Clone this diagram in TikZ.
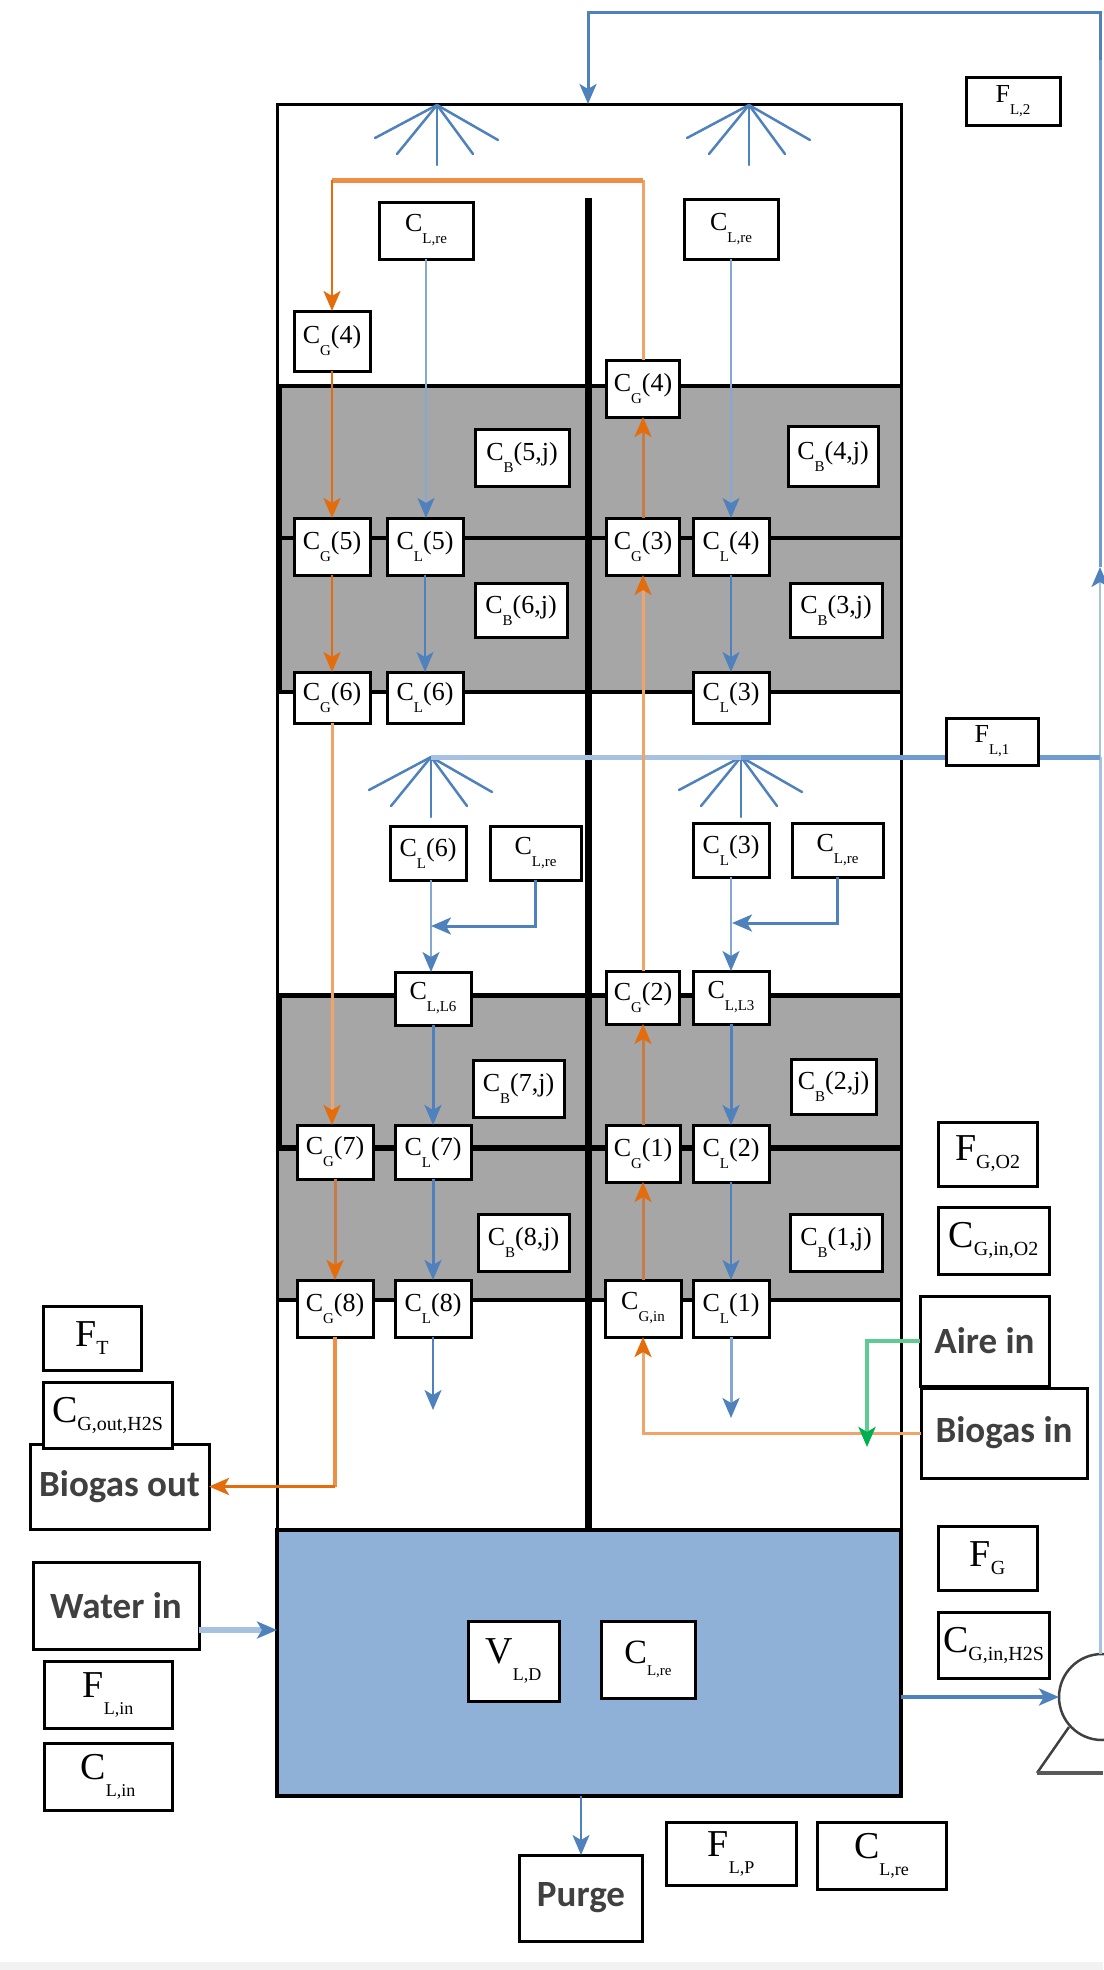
\documentclass[tikz,border=0pt]{standalone}
\usepackage{fontspec}
\usepackage{xcolor}
\usepackage{tikz}
\usetikzlibrary{arrows.meta,positioning}
\setmainfont{Liberation Serif}
\newfontfamily\labfont{Carlito}

\definecolor{bedgray}{HTML}{A6A6A6}
\definecolor{sumpblue}{HTML}{8FB0D7}
\definecolor{liqblue}{HTML}{4F81BD}
\definecolor{liqpale}{HTML}{A7C2E0}
\definecolor{liqmid}{HTML}{6F9BD0}
\definecolor{gasdark}{HTML}{E46C0A}
\definecolor{gaspale}{HTML}{F0A46A}
\definecolor{gasmute}{HTML}{C87C45}
\definecolor{gastop}{HTML}{EE8F45}
\definecolor{airgreen}{HTML}{00B050}
\definecolor{airpale}{HTML}{5FCB92}
\definecolor{labgray}{HTML}{404040}
\definecolor{stripgray}{HTML}{F2F2F2}

% low subscripts: small boxes, large boxes, dropped under the letter
\newcommand{\lsub}[1]{\raisebox{-12pt}{\fontsize{15}{15}\selectfont #1}}
\newcommand{\bsub}[1]{\raisebox{-8pt}{\fontsize{20}{20}\selectfont #1}}
\newcommand{\dsub}[1]{\raisebox{-17pt}{\fontsize{18}{18}\selectfont #1}}

\tikzset{
  cbox/.style={draw=black, line width=3pt, fill=white, inner sep=0pt, outer sep=0pt,
    font=\fontsize{26}{26}\selectfont, minimum width=76pt, minimum height=57pt},
  fbox/.style={cbox, font=\fontsize{38}{38}\selectfont, minimum width=99pt, minimum height=64pt},
  tbox/.style={cbox, text=labgray, font=\labfont\bfseries\fontsize{37}{37}\selectfont},
  liqflow/.style={draw=liqblue, line width=2pt, -{Stealth[length=20pt,width=17pt,inset=5pt,color=liqblue]}},
  liqpaleflow/.style={liqflow, draw=liqpale!60!liqblue},
  gasflow/.style={draw=gasdark, line width=2.5pt, -{Stealth[length=20pt,width=17pt,inset=5pt,color=gasdark]}},
  gasmuteflow/.style={gasflow, draw=gasmute, line width=3pt},
  gaspaleflow/.style={gasflow, draw=gaspale, line width=3pt},
  spray/.style={draw=liqblue, line width=2.5pt, line cap=round},
}

\begin{document}
\begin{tikzpicture}[x=1pt,y=-1pt]
\useasboundingbox (0,0) rectangle (1103,1970);
\fill[stripgray] (0,1962) rectangle (1103,1970);

% packed beds
\fill[bedgray] (277,386) rectangle (901,692);
\fill[bedgray] (277,995) rectangle (901,1300);
\draw[line width=3pt] (277,104) rectangle (901,1530);
\draw[line width=4pt] (277,386) -- (901,386);
\draw[line width=4pt] (277,538) -- (901,538);
\draw[line width=3.5pt] (277,692) -- (901,692);
\draw[line width=5pt] (277,995) -- (901,995);
\draw[line width=6pt] (277,1148) -- (901,1148);
\draw[line width=4pt] (277,1300) -- (901,1300);
\draw[line width=5pt] (279,386) -- (279,692);
\draw[line width=5pt] (279,995) -- (279,1148);
\draw[line width=6.5pt] (588.5,198) -- (588.5,1530);

% sump and pump
\node[draw=black, line width=4pt, fill=sumpblue, minimum width=624pt, minimum height=266pt, inner sep=0pt, outer sep=0pt] (tank) at (589,1663) {};
\node[circle, draw=black!75, line width=2.5pt, minimum size=86pt, inner sep=0pt, outer sep=0pt] (pump) at (1102,1697) {};
\draw[black!75, line width=2.5pt] (1069,1727) -- (1037,1773);
\draw[black!65, line width=4pt] (1037,1773) -- (1103,1773);

% text boxes
\node[tbox, minimum width=179pt, minimum height=85pt] (bgout) at (119.5,1486.5) {Biogas out};
\node[tbox, minimum width=129pt, minimum height=90pt] (airin) at (984.5,1341) {Aire in};
\node[tbox, minimum width=166pt, minimum height=90pt] (bgin) at (1004,1433) {Biogas in};
\node[tbox, minimum width=166pt, minimum height=87pt] (waterin) at (116,1605.5) {Water in};
\node[tbox, minimum width=123pt, minimum height=86pt] (purge) at (581,1898) {Purge};

\coordinate (gtopr) at (643,180);
\coordinate (gtopl) at (332,180);
\coordinate (gout) at (335,1486.5);
\coordinate (ltop) at (800,12);
\coordinate (rcyup) at (1100,60);
\coordinate (rcymid) at (1100,567);
\coordinate (rcyfl) at (1100,757);
\coordinate (sprayt1) at (437,105);
\coordinate (sprayt2) at (749,105);
\coordinate (spraym1) at (431,757);
\coordinate (spraym2) at (741,757);
\coordinate (mixl) at (431,926);
\coordinate (mixr) at (732,923);
\coordinate (dropl) at (433,1410);
\coordinate (dropr) at (731,1418);
\coordinate (airmix) at (867,1447);
\coordinate (wfeed) at (200,1630);

% sprays
\foreach \apex in {sprayt1,sprayt2,spraym1,spraym2}
  \foreach \dx/\dy in {-62/33,-40/49,0/60,36/49,61/35}
    \draw[spray] (\apex) -- ++(\dx,\dy);

% recycle lines
\draw[draw=liqpale, line width=3pt] (pump.north -| rcymid) -- (rcyfl);
\draw[liqflow, draw=liqpale] (rcyfl) -- (rcymid);
\draw[draw=liqmid, line width=3pt] (rcymid) -- (rcyup);
\draw[liqflow, line width=3pt] (rcyup) |- (ltop) -| (588,104);
\draw[draw=liqmid, line width=5pt] (rcyfl) -- (spraym2);
\draw[draw=liqpale, line width=5pt] (spraym2) -- (spraym1);

% concentration boxes
\node[cbox, minimum width=94pt] (clret1) at (426,230.5) {C\lsub{L,re}};
\node[cbox, minimum width=94pt, minimum height=60pt] (clret2) at (731,229) {C\lsub{L,re}};
\node[cbox, minimum height=60pt] (cg4l) at (332,341) {C\lsub{G}(4)};
\node[cbox, minimum width=73pt] (cg4r) at (643,388.5) {C\lsub{G}(4)};
\node[cbox, minimum width=94pt] (cb5) at (522,457.5) {C\lsub{B}(5,j)};
\node[cbox, minimum width=90pt, minimum height=60pt] (cb4) at (833,456) {C\lsub{B}(4,j)};
\node[cbox] (cg5) at (332,546.5) {C\lsub{G}(5)};
\node[cbox, right=17pt of cg5] (cl5) {C\lsub{L}(5)};
\node[cbox, minimum width=73pt] (cg3) at (643,546.5) {C\lsub{G}(3)};
\node[cbox, right=13.5pt of cg3] (cl4) {C\lsub{L}(4)};
\node[cbox, minimum width=92pt, minimum height=54pt] (cb6) at (521,610) {C\lsub{B}(6,j)};
\node[cbox, minimum width=92pt, minimum height=54pt] (cb3) at (836,610) {C\lsub{B}(3,j)};
\node[cbox, minimum height=51pt] (cg6) at (332,697.5) {C\lsub{G}(6)};
\node[cbox, minimum height=51pt, right=17pt of cg6] (cl6) {C\lsub{L}(6)};
\node[cbox, minimum height=51pt] (cl3) at (731,697.5) {C\lsub{L}(3)};
\node[cbox, minimum height=54pt] (cl6s) at (428,853) {C\lsub{L}(6)};
\node[cbox, minimum width=91pt, minimum height=54pt] (clret3) at (535.5,853) {C\lsub{L,re}};
\node[cbox, minimum height=54pt] (cl3s) at (731,850) {C\lsub{L}(3)};
\node[cbox, minimum width=91pt, minimum height=54pt] (clret4) at (837.5,850) {C\lsub{L,re}};
\node[cbox, minimum height=53pt] (cll6) at (433,998.5) {C\lsub{L,L6}};
\node[cbox, minimum width=73pt, minimum height=53pt] (cg2) at (643,997.5) {C\lsub{G}(2)};
\node[cbox, minimum height=53pt, right=13.5pt of cg2] (cll3) {C\lsub{L,L3}};
\node[cbox, minimum width=91pt] (cb7) at (518.5,1088.5) {C\lsub{B}(7,j)};
\node[cbox, minimum width=85pt, minimum height=55pt] (cb2) at (833.5,1086.5) {C\lsub{B}(2,j)};
\node[cbox, minimum height=54pt] (cg7) at (335,1152) {C\lsub{G}(7)};
\node[cbox, minimum height=54pt, right=22pt of cg7] (cl7) {C\lsub{L}(7)};
\node[cbox, minimum width=74pt] (cg1) at (643,1153.5) {C\lsub{G}(1)};
\node[cbox, right=13pt of cg1] (cl2) {C\lsub{L}(2)};
\node[cbox, minimum width=91pt] (cb8) at (523.5,1242.5) {C\lsub{B}(8,j)};
\node[cbox, minimum width=92pt] (cb1) at (836,1242.5) {C\lsub{B}(1,j)};
\node[cbox] (cg8) at (335,1308.5) {C\lsub{G}(8)};
\node[cbox, right=22pt of cg8] (cl8) {C\lsub{L}(8)};
\node[cbox] (cgin) at (643,1308.5) {C\lsub{G,in}};
\node[cbox, right=12pt of cgin] (cl1) {C\lsub{L}(1)};

% outside labels
\node[cbox, minimum width=94pt, minimum height=48pt] (fl2) at (1013,101) {F\lsub{L,2}};
\node[cbox, minimum width=92pt, minimum height=47pt] (fl1) at (992,741.5) {F\lsub{L,1}};
\node[fbox] (fgo2) at (987.5,1154) {F\bsub{G,O2}};
\node[fbox, minimum width=111pt, minimum height=67pt] (cgio2) at (993.5,1240.5) {C\bsub{G,in,O2}};
\node[fbox] (fg) at (987.5,1558) {F\bsub{G}};
\node[fbox, minimum width=111pt, minimum height=66pt] (cgih2s) at (993.5,1645) {C\bsub{G,in,H2S}};
\node[fbox, minimum width=98pt] (ft) at (92,1338) {F\bsub{T}};
\node[fbox, minimum width=129pt, minimum height=66pt] (cgoh2s) at (107.5,1415) {C\bsub{G,out,H2S}};
\node[fbox, minimum width=128pt, minimum height=67pt] (flin) at (108,1694.5) {F\dsub{L,in}};
\node[fbox, minimum width=128pt, minimum height=67pt] (clin) at (108,1776.5) {C\dsub{L,in}};
\node[fbox, minimum width=91pt, minimum height=80pt] (vld) at (513.5,1661) {V\dsub{L,D}};
\node[cbox, font=\fontsize{34}{34}\selectfont, minimum width=94pt, minimum height=77pt] (clres) at (648,1659.5) {C\lsub{L,re}};
\node[fbox, minimum width=130pt, minimum height=63pt] (flp) at (731,1853.5) {F\dsub{L,P}};
\node[fbox, minimum width=129pt, minimum height=67pt] (clrep) at (881.5,1855.5) {C\dsub{L,re}};

% liquid flows
\draw[liqpaleflow] (clret1) -- (clret1 |- cl5.north);
\draw[liqpaleflow] (clret2) -- (cl4);
\draw[liqflow] (cl5) -- (cl6);
\draw[liqflow] (cl4) -- (cl3);
\draw[liqpaleflow] (cl6s.south -| spraym1) -- (spraym1 |- cll6.north);
\draw[liqpaleflow] (cl3s) -- (cll3);
\draw[liqflow, line width=3pt] (clret3) |- (mixl);
\draw[liqflow, line width=3pt] (clret4) |- (mixr);
\draw[liqflow, line width=3pt] (cll6) -- (cl7);
\draw[liqflow, line width=3pt] (cll3) -- (cl2);
\draw[liqflow, line width=3pt] (cl7) -- (cl8);
\draw[liqflow] (cl2) -- (cl1);
\draw[liqflow] (cl8) -- (dropl);
\draw[liqpaleflow, line width=3pt] (cl1) -- (dropr);
\draw[liqflow, draw=liqpale, line width=6pt] (waterin.east |- wfeed) -- (tank.west |- wfeed);
\draw[liqflow, line width=4pt] (tank.east |- pump) -- (pump);
\draw[liqflow] (tank.south -| purge) -- (purge);

% gas flows
\draw[gaspaleflow] (bgin) -| (cgin);
\draw[gasmuteflow] (cgin) -- (cg1);
\draw[gasmuteflow] (cg1) -- (cg2);
\draw[gaspaleflow] (cg2) -- (cg3);
\draw[gasmuteflow] (cg3) -- (cg4r);
\draw[draw=gaspale, line width=3pt] (cg4r) -- (gtopr);
\draw[draw=gastop, line width=5pt] (gtopr) -- (gtopl);
\draw[gasflow] (gtopl) -- (cg4l);
\draw[gasflow] (cg4l) -- (cg5);
\draw[gasflow] (cg5) -- (cg6);
\draw[gaspaleflow] (cg6) -- (cg6 |- cg7.north);
\draw[gasmuteflow] (cg7) -- (cg8);
\draw[draw=gastop, line width=3.5pt] (cg8) -- (gout);
\draw[gasflow, line width=3.5pt] (gout) -- (bgout);
\draw[draw=airpale, line width=4pt, -{Stealth[length=20pt,width=17pt,inset=5pt,color=airgreen]}] (airin) -| (airmix);
\end{tikzpicture}
\end{document}
